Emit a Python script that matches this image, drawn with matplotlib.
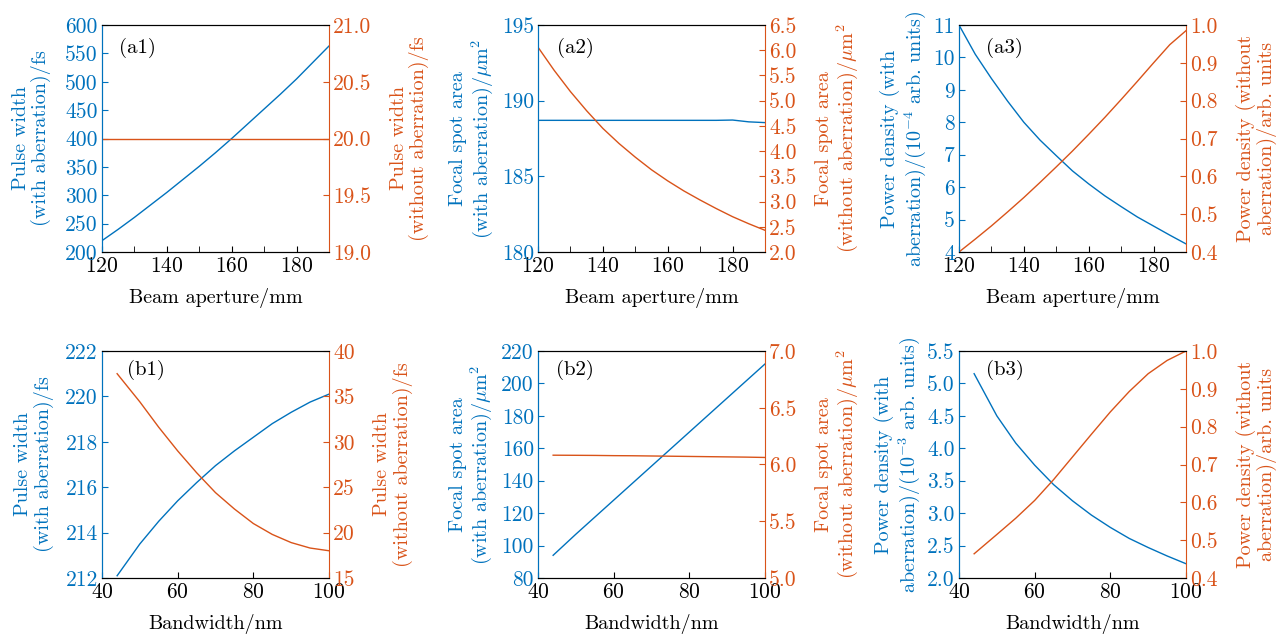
import matplotlib
matplotlib.use("Agg")
import matplotlib.pyplot as plt
from matplotlib.ticker import MultipleLocator, FormatStrFormatter

plt.rcParams["font.family"] = ["cmr10", "DejaVu Serif"]
plt.rcParams["mathtext.fontset"] = "cm"
plt.rcParams["axes.formatter.use_mathtext"] = True
plt.rcParams["axes.unicode_minus"] = False

BLUE = "#0072BD"
ORANGE = "#D95319"

# ---- data ----
# (a) beam aperture sweep
aperture = [120, 125, 130, 135, 140, 145, 150, 155, 160, 165, 170, 175, 180, 185, 190]
a1_with = [220, 240, 261, 283, 305, 328, 351, 375, 400, 426, 452, 478, 505, 534, 563]
a1_without = [20.0] * 15
a2_with = [188.7, 188.7, 188.7, 188.7, 188.7, 188.7, 188.7, 188.7, 188.7, 188.7, 188.7, 188.7, 188.72, 188.6, 188.55]
a2_without = [6.06, 5.60, 5.18, 4.80, 4.45, 4.15, 3.88, 3.63, 3.41, 3.21, 3.03, 2.86, 2.70, 2.56, 2.43]
a3_with = [11.0, 10.1, 9.35, 8.65, 8.0, 7.45, 6.97, 6.5, 6.1, 5.73, 5.4, 5.08, 4.8, 4.52, 4.25]
a3_without = [0.40, 0.434, 0.469, 0.506, 0.544, 0.584, 0.625, 0.667, 0.711, 0.756, 0.803, 0.851, 0.90, 0.948, 0.985]

# (b) bandwidth sweep
bandwidth = [44, 50, 55, 60, 65, 70, 75, 80, 85, 90, 95, 100]
b1_with = [212.1, 213.5, 214.5, 215.4, 216.2, 216.95, 217.6, 218.2, 218.8, 219.3, 219.75, 220.1]
b1_without = [37.5, 34.4, 31.6, 29.0, 26.6, 24.4, 22.6, 21.0, 19.8, 18.9, 18.3, 18.0]
b2_with = [94, 107, 117.5, 128, 138.5, 149, 159.5, 170, 180.5, 191, 201.5, 212]
b2_without = [6.082, 6.081, 6.080, 6.078, 6.077, 6.075, 6.073, 6.071, 6.069, 6.067, 6.065, 6.062]
b3_with = [5.15, 4.50, 4.08, 3.74, 3.44, 3.19, 2.97, 2.78, 2.61, 2.47, 2.34, 2.22]
b3_without = [0.464, 0.515, 0.558, 0.605, 0.660, 0.720, 0.780, 0.839, 0.893, 0.940, 0.975, 1.0]

panels = [
    # tag, x, y_left, y_right, xlim, xmajor, xminor, ylim_l, ystep_l, fmt_l, ylim_r, ystep_r, fmt_r, lab_l, lab_r, xlabel
    ("(a1)", aperture, a1_with, a1_without, (120, 190), 20, 10, (200, 600), 50, "%d", (19, 21), 0.5, "%.1f",
     "Pulse width\n(with aberration)/fs", "Pulse width\n(without aberration)/fs", "Beam aperture/mm"),
    ("(a2)", aperture, a2_with, a2_without, (120, 190), 20, 10, (180, 195), 5, "%d", (2, 6.5), 0.5, "%.1f",
     "Focal spot area\n(with aberration)/$\\mu$m$^2$", "Focal spot area\n(without aberration)/$\\mu$m$^2$",
     "Beam aperture/mm"),
    ("(a3)", aperture, a3_with, a3_without, (120, 190), 20, 10, (4, 11), 1, "%d", (0.4, 1.0), 0.1, "%.1f",
     "Power density (with\naberration)/(10$^{-4}$ arb. units)", "Power density (without\naberration)/arb. units",
     "Beam aperture/mm"),
    ("(b1)", bandwidth, b1_with, b1_without, (40, 100), 20, 20, (212, 222), 2, "%d", (15, 40), 5, "%d",
     "Pulse width\n(with aberration)/fs", "Pulse width\n(without aberration)/fs", "Bandwidth/nm"),
    ("(b2)", bandwidth, b2_with, b2_without, (40, 100), 20, 20, (80, 220), 20, "%d", (5, 7), 0.5, "%.1f",
     "Focal spot area\n(with aberration)/$\\mu$m$^2$", "Focal spot area\n(without aberration)/$\\mu$m$^2$",
     "Bandwidth/nm"),
    ("(b3)", bandwidth, b3_with, b3_without, (40, 100), 20, 20, (2, 5.5), 0.5, "%.1f", (0.4, 1.0), 0.1, "%.1f",
     "Power density (with\naberration)/(10$^{-3}$ arb. units)", "Power density (without\naberration)/arb. units",
     "Bandwidth/nm"),
]

# panel tag positions (axes fraction)
tag_pos = [(0.075, 0.90), (0.083, 0.90), (0.12, 0.90), (0.11, 0.915), (0.08, 0.915), (0.12, 0.915)]
left_pad = [10, 5, 4, 8, 5, 4]

W, H = 1281, 635
lefts = [102, 538, 959]
tops = [25, 351]
width, height = 227, 227

fig = plt.figure(figsize=(W / 100, H / 100), dpi=100)

for i, p in enumerate(panels):
    (tag, x, yl, yr, xlim, xmaj, xmin, yliml, ystl, fmtl, ylimr, ystr, fmtr, labl, labr, xlab) = p
    row, col = divmod(i, 3)
    rect = [lefts[col] / W, 1 - (tops[row] + height) / H, width / W, height / H]
    ax = fig.add_axes(rect)
    ax2 = ax.twinx()

    ax.plot(x, yl, color=BLUE, lw=1.0)
    ax2.plot(x, yr, color=ORANGE, lw=1.0)

    ax.set_xlim(*xlim)
    ax.set_ylim(*yliml)
    ax2.set_ylim(*ylimr)
    ax.xaxis.set_major_locator(MultipleLocator(xmaj))
    ax.xaxis.set_minor_locator(MultipleLocator(xmin))
    ax.yaxis.set_major_locator(MultipleLocator(ystl))
    ax2.yaxis.set_major_locator(MultipleLocator(ystr))
    ax.yaxis.set_major_formatter(FormatStrFormatter(fmtl))
    ax2.yaxis.set_major_formatter(FormatStrFormatter(fmtr))

    ax.tick_params(axis="x", which="both", direction="in", labelsize=15.5, length=4, pad=3)
    ax.tick_params(axis="y", direction="in", colors=BLUE, labelsize=15.5, length=4, pad=3)
    ax2.tick_params(axis="y", direction="in", colors=ORANGE, labelsize=15.5, length=4, pad=3)

    ax.spines["left"].set_color(BLUE)
    ax2.spines["left"].set_color(BLUE)
    ax2.spines["right"].set_color(ORANGE)
    ax.spines["right"].set_visible(False)

    ax.set_xlabel(xlab, fontsize=14.5, labelpad=9)
    ax.set_ylabel(labl, color=BLUE, fontsize=14.5, labelpad=left_pad[i], linespacing=1.1)
    ax2.set_ylabel(labr, color=ORANGE, fontsize=14.5, labelpad=13, linespacing=1.1)

    tx, ty = tag_pos[i]
    ax.text(tx, ty, tag, transform=ax.transAxes, fontsize=15, va="center")

fig.savefig("out.png", dpi=100)
